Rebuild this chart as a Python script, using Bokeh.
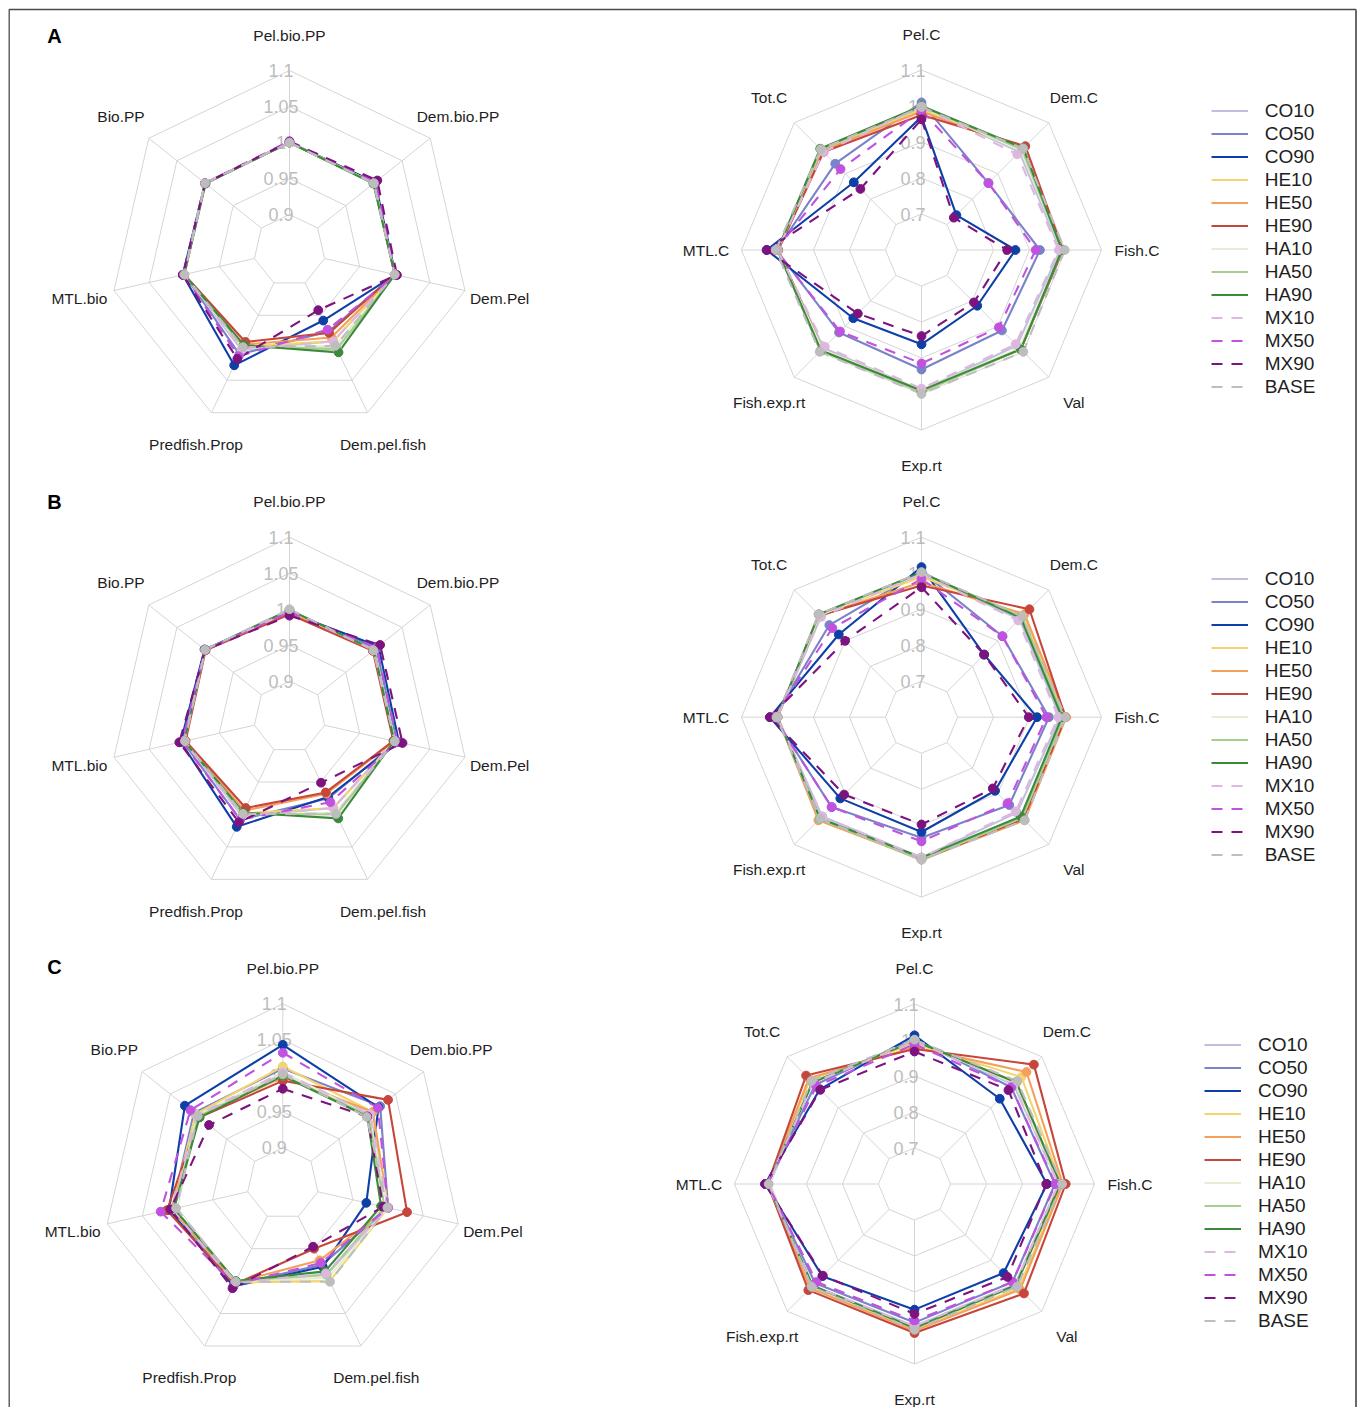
import numpy as np
from bokeh.plotting import figure
from bokeh.models import Range1d, Legend, LegendItem
from bokeh.embed import file_html
from bokeh.resources import INLINE
from bokeh.core.properties import value

# ---------------- data ----------------
SERIES = ["CO10", "CO50", "CO90", "HE10", "HE50", "HE90",
          "HA10", "HA50", "HA90", "MX10", "MX50", "MX90", "BASE"]
COLORS = ["#BFC0DF", "#7A82C8", "#0E3FA6", "#F3D56E", "#F4A05A", "#C6463B",
          "#E6EED2", "#A8CE8E", "#3B8A3B", "#DCB8DF", "#C052DF", "#7C137F", "#BDBDBD"]
DASHES = ["solid"] * 9 + ["11 9"] * 4

BIO_AXES = ["Pel.bio.PP", "Dem.bio.PP", "Dem.Pel", "Dem.pel.fish",
            "Predfish.Prop", "MTL.bio", "Bio.PP"]
CATCH_AXES = ["Pel.C", "Dem.C", "Fish.C", "Val", "Exp.rt",
              "Fish.exp.rt", "MTL.C", "Tot.C"]
BIO_TICKS = [0.9, 0.95, 1.0, 1.05, 1.1]
BIO_TICK_LABELS = ["0.9", "0.95", "1", "1.05", "1.1"]
CATCH_TICKS = [0.7, 0.8, 0.9, 1.0, 1.1]
CATCH_TICK_LABELS = ["0.7", "0.8", "0.9", "1", "1.1"]
BIO_MIN, CATCH_MIN, VMAX = 0.85, 0.6, 1.1
PANEL_LETTERS = ["A", "B", "C"]

A_bio = {
    "CO10": [1.0, 1.0, 1.0, 0.99, 1.003, 1.0, 1.0],
    "CO50": [1.0, 1.001, 1.0, 0.975, 1.01, 1.0, 1.0],
    "CO90": [1.0, 1.002, 1.001, 0.958, 1.027, 1.002, 1.0],
    "HE10": [1.0, 1.0, 1.0, 0.99, 0.998, 1.0, 1.0],
    "HE50": [1.0, 1.0, 1.0, 0.984, 0.995, 1.0, 1.0],
    "HE90": [1.0, 1.0, 1.0, 0.977, 0.991, 1.0, 1.0],
    "HA10": [1.0, 1.0, 1.0, 0.997, 1.0, 1.0, 1.0],
    "HA50": [1.0, 1.0, 1.0, 1.002, 0.998, 1.0, 1.0],
    "HA90": [1.0, 0.999, 1.0, 1.007, 0.996, 1.0, 0.999],
    "MX10": [1.0, 1.0, 1.0, 0.99, 1.003, 1.0, 1.0],
    "MX50": [1.002, 1.003, 1.002, 0.972, 1.013, 1.001, 1.0],
    "MX90": [1.001, 1.006, 1.003, 0.942, 1.017, 1.002, 1.0],
    "BASE": [1.0, 1.0, 1.0, 0.997, 0.999, 1.0, 1.0],
}
A_catch = {
    "CO10": [1.0, 0.985, 0.985, 0.975, 0.99, 0.985, 1.0, 0.99],
    "CO50": [1.01, 0.863, 0.929, 0.916, 0.932, 0.924, 1.003, 0.939],
    "CO90": [0.97, 0.737, 0.861, 0.819, 0.862, 0.868, 1.03, 0.866],
    "HE10": [0.99, 0.995, 0.99, 0.99, 0.99, 0.995, 1.0, 0.995],
    "HE50": [0.985, 0.998, 0.99, 0.99, 0.99, 0.995, 0.998, 0.99],
    "HE90": [0.975, 1.008, 0.993, 0.99, 0.992, 0.99, 0.998, 0.985],
    "HA10": [1.0, 0.99, 0.99, 0.985, 0.99, 0.99, 1.0, 0.995],
    "HA50": [1.0, 0.995, 0.99, 0.99, 0.995, 0.995, 1.0, 0.995],
    "HA90": [1.0, 1.0, 0.99, 0.99, 0.99, 0.995, 1.0, 0.998],
    "MX10": [0.998, 0.976, 0.981, 0.97, 0.985, 0.98, 1.0, 0.985],
    "MX50": [0.988, 0.863, 0.917, 0.904, 0.915, 0.92, 1.005, 0.918],
    "MX90": [0.963, 0.727, 0.838, 0.806, 0.839, 0.85, 1.03, 0.84],
    "BASE": [0.997, 0.999, 0.998, 1.0, 1.0, 1.0, 1.005, 0.996],
}
B_bio = {
    "CO10": [0.997, 1.0, 1.0, 0.99, 1.002, 1.0, 1.0],
    "CO50": [0.996, 1.004, 1.003, 0.975, 1.008, 1.002, 1.0],
    "CO90": [0.995, 1.008, 1.006, 0.973, 1.019, 1.005, 1.001],
    "HE10": [0.997, 1.0, 1.0, 0.99, 0.998, 1.0, 1.0],
    "HE50": [0.995, 0.999, 0.999, 0.968, 0.994, 0.999, 1.0],
    "HE90": [0.993, 0.998, 0.998, 0.966, 0.99, 0.998, 0.999],
    "HA10": [0.998, 1.0, 1.0, 0.997, 1.0, 1.0, 1.0],
    "HA50": [0.998, 1.0, 1.0, 1.0, 0.999, 1.0, 1.0],
    "HA90": [0.999, 1.0, 0.999, 1.006, 0.997, 1.0, 1.0],
    "MX10": [0.997, 1.0, 1.0, 0.99, 1.002, 1.0, 1.0],
    "MX50": [0.996, 1.005, 1.004, 0.981, 1.008, 1.003, 1.0],
    "MX90": [0.991, 1.011, 1.011, 0.951, 1.012, 1.007, 1.0],
    "BASE": [1.0, 0.999, 1.0, 0.999, 0.999, 0.999, 1.0],
}
B_catch = {
    "CO10": [1.0, 0.985, 0.985, 0.975, 0.99, 0.99, 1.0, 0.995],
    "CO50": [1.005, 0.918, 0.954, 0.945, 0.935, 0.953, 1.01, 0.962],
    "CO90": [1.017, 0.846, 0.921, 0.889, 0.919, 0.919, 1.021, 0.925],
    "HE10": [0.99, 1.0, 1.0, 1.0, 0.995, 1.0, 1.0, 1.0],
    "HE50": [0.975, 1.005, 1.002, 1.005, 0.995, 1.005, 1.0, 1.0],
    "HE90": [0.966, 1.024, 1.0, 1.0, 0.995, 1.0, 1.0, 1.0],
    "HA10": [0.998, 0.995, 0.995, 0.995, 0.995, 1.0, 1.0, 1.0],
    "HA50": [1.0, 0.995, 0.995, 0.995, 0.995, 1.0, 1.0, 1.003],
    "HA90": [1.002, 0.99, 0.99, 0.99, 0.99, 0.998, 1.0, 1.004],
    "MX10": [0.998, 0.98, 0.98, 0.97, 0.99, 0.99, 1.0, 0.995],
    "MX50": [0.984, 0.918, 0.947, 0.938, 0.945, 0.953, 1.01, 0.95],
    "MX90": [0.961, 0.846, 0.898, 0.88, 0.898, 0.904, 1.021, 0.9],
    "BASE": [1.003, 0.996, 1.0, 1.005, 0.996, 0.998, 1.003, 1.004],
}
C_bio = {
    "CO10": [1.004, 1.005, 1.0, 0.99, 1.003, 1.005, 1.002],
    "CO50": [1.01, 1.023, 1.0, 0.975, 1.005, 1.008, 1.008],
    "CO90": [1.043, 1.02, 0.969, 0.978, 1.008, 1.012, 1.024],
    "HE10": [1.013, 1.01, 1.0, 1.0, 1.002, 1.008, 1.005],
    "HE50": [0.998, 1.01, 1.0, 0.968, 1.002, 1.008, 1.0],
    "HE90": [0.993, 1.037, 1.027, 0.95, 1.005, 1.015, 0.998],
    "HA10": [1.005, 1.003, 1.0, 0.995, 1.0, 1.005, 1.002],
    "HA50": [1.0, 1.002, 0.995, 0.99, 1.0, 1.005, 1.0],
    "HA90": [1.0, 1.0, 0.99, 0.985, 1.0, 1.005, 0.998],
    "MX10": [1.005, 1.005, 1.0, 0.988, 1.003, 1.008, 1.003],
    "MX50": [1.032, 1.019, 1.0, 0.972, 1.005, 1.024, 1.014],
    "MX90": [0.982, 1.0, 0.993, 0.947, 1.011, 1.01, 0.981],
    "BASE": [1.002, 0.999, 0.999, 1.001, 1.001, 1.002, 1.001],
}
C_catch = {
    "CO10": [1.0, 0.99, 1.0, 0.995, 0.995, 1.0, 1.008, 1.0],
    "CO50": [1.003, 0.98, 0.99, 0.985, 0.985, 0.99, 1.008, 0.99],
    "CO90": [1.013, 0.935, 0.968, 0.95, 0.949, 0.962, 1.015, 0.972],
    "HE10": [0.99, 1.02, 1.008, 1.01, 1.005, 1.008, 1.008, 1.01],
    "HE50": [0.98, 1.04, 1.012, 1.015, 1.008, 1.01, 1.008, 1.015],
    "HE90": [0.975, 1.069, 1.02, 1.03, 1.014, 1.017, 1.008, 1.026],
    "HA10": [0.998, 0.995, 1.0, 1.0, 1.0, 1.0, 1.008, 1.0],
    "HA50": [0.998, 1.0, 1.003, 0.998, 1.0, 1.0, 1.008, 1.0],
    "HA90": [0.997, 1.0, 1.005, 0.998, 1.0, 1.0, 1.008, 1.0],
    "MX10": [0.997, 0.99, 1.0, 0.995, 0.995, 1.0, 1.008, 0.998],
    "MX50": [0.988, 0.98, 0.992, 0.985, 0.98, 0.985, 1.008, 0.985],
    "MX90": [0.968, 0.969, 0.966, 0.965, 0.961, 0.96, 1.015, 0.97],
    "BASE": [1.001, 1.004, 1.01, 1.003, 1.005, 1.004, 1.005, 1.005],
}

# ---------------- layout ----------------
FONT = "Liberation Sans"
GRID = "#D5D5D5"
W, H = 1360, 1407
R = 180.0
LABEL_R = 215.5

p = figure(width=W, height=H, x_range=Range1d(0, W), y_range=Range1d(H, 0),
           output_backend="svg", toolbar_location=None, min_border=0,
           x_axis_location=None, y_axis_location=None)
p.grid.visible = False
p.outline_line_color = None
p.background_fill_color = "white"
p.border_fill_color = "white"

# frame around the whole figure
p.line(x=[8.7, 8.7, 1355.5], y=[H, 9.0, 9.0], line_color="#4a4a4a", line_width=1.3)
p.line(x=[1355.5, 1355.5], y=[9.0, H], line_color="#6a6a6a", line_width=2)


def radar(cx, cy, axes, ticks, tick_labels, vmin, data):
    n = len(axes)
    ang = np.arange(n) * 2 * np.pi / n
    sx, sy = np.sin(ang), -np.cos(ang)

    def scale(v):
        return (np.asarray(v, dtype=float) - vmin) / (VMAX - vmin) * R

    xs, ys = [], []
    for t in ticks:
        r = scale(t)
        xs.append(list(cx + r * np.append(sx, sx[0])))
        ys.append(list(cy + r * np.append(sy, sy[0])))
    p.multi_line(xs, ys, line_color=GRID, line_width=1)
    r0, r1 = scale(ticks[0]), scale(ticks[-1])
    p.segment(x0=cx + r0 * sx, y0=cy + r0 * sy, x1=cx + r1 * sx, y1=cy + r1 * sy,
              line_color=GRID, line_width=1)
    p.text(x=[cx - 8.5] * len(ticks), y=list(cy - scale(ticks)), text=tick_labels,
           text_font=value(FONT), text_font_size="18px", text_color="#BDBDBD",
           text_align="center", text_baseline="middle")
    p.text(x=list(cx + LABEL_R * sx), y=list(cy + LABEL_R * sy), text=axes,
           text_font=value(FONT), text_font_size="15.5px", text_color="#1e1e1e",
           text_align="center", text_baseline="middle")
    lines = {}
    pts = []
    for s, c, d in zip(SERIES, COLORS, DASHES):
        r = scale(data[s])
        x = cx + r * sx
        y = cy + r * sy
        lines[s] = p.line(np.append(x, x[0]), np.append(y, y[0]), line_color=c,
                          line_width=2.1, line_dash=d)
        pts.append((x, y, c))
    for x, y, c in pts:
        p.scatter(x, y, size=8.8, fill_color=c, line_color=c, line_width=1)
    return lines


def add_legend(lines, x, y):
    items = [LegendItem(label=s, renderers=[lines[s]]) for s in SERIES]
    lg = Legend(items=items, location=(x, y), padding=0, margin=0, spacing=0,
                glyph_width=37, glyph_height=23, label_height=23, label_standoff=17,
                border_line_color=None, background_fill_alpha=0,
                label_text_font=FONT, label_text_font_size="19px",
                label_text_color="#1e1e1e")
    p.add_layout(lg)


panels = [
    # letter pos, bio centre, catch centre, legend (x, y of lower-left from bottom)
    ((54, 35.5), (289.0, 250.0), (921.0, 249.5), (1210.7, 1009)),
    ((54, 501.5), (289.0, 716.7), (921.0, 716.7), (1210.7, 541)),
    ((54, 966.0), (282.3, 1183.3), (914.0, 1183.5), (1204.0, 75)),
]
datasets = [(A_bio, A_catch), (B_bio, B_catch), (C_bio, C_catch)]

for letter, (lpos, bc, cc, lg), (bio, catch) in zip(PANEL_LETTERS, panels, datasets):
    p.text(x=[lpos[0]], y=[lpos[1]], text=[letter], text_font=value(FONT),
           text_font_size="20px", text_font_style="bold", text_color="#000000",
           text_align="center", text_baseline="middle")
    radar(bc[0], bc[1], BIO_AXES, BIO_TICKS, BIO_TICK_LABELS, BIO_MIN, bio)
    lines = radar(cc[0], cc[1], CATCH_AXES, CATCH_TICKS, CATCH_TICK_LABELS, CATCH_MIN, catch)
    add_legend(lines, lg[0], lg[1])

open("out.html", "w").write(file_html(p, INLINE))
